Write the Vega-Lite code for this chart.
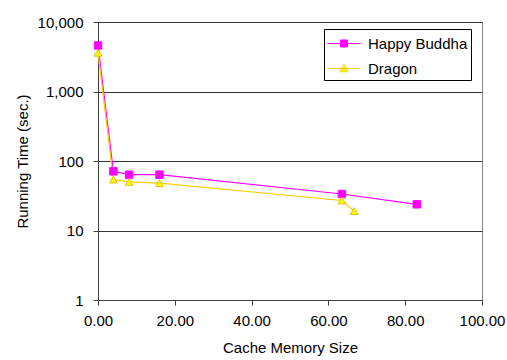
{
  "$schema": "https://vega.github.io/schema/vega-lite/v6.json",
  "width": 384,
  "height": 278,
  "autosize": {"type": "none"},
  "padding": {"left": 98, "top": 22, "right": 25, "bottom": 60},
  "background": "white",
  "config": {
    "font": "Liberation Sans",
    "view": {"stroke": "#888888", "strokeWidth": 1},
    "axis": {
      "labelFont": "Liberation Sans",
      "titleFont": "Liberation Sans",
      "labelFontSize": 15,
      "titleFontSize": 15,
      "titleFontWeight": "normal",
      "labelColor": "black",
      "titleColor": "black",
      "domainColor": "#404040",
      "tickColor": "#404040",
      "gridColor": "#333333",
      "gridOpacity": 1,
      "tickSize": 5,
      "labelFlush": false
    }
  },
  "data": {
    "values": [
      {"series": "Happy Buddha", "x": 0, "y": 4600},
      {"series": "Happy Buddha", "x": 4, "y": 71},
      {"series": "Happy Buddha", "x": 8.1, "y": 63.5},
      {"series": "Happy Buddha", "x": 16, "y": 63.5},
      {"series": "Happy Buddha", "x": 63.5, "y": 33.5},
      {"series": "Happy Buddha", "x": 83, "y": 23.8},
      {"series": "Dragon", "x": 0, "y": 3600},
      {"series": "Dragon", "x": 4, "y": 54},
      {"series": "Dragon", "x": 8.1, "y": 50},
      {"series": "Dragon", "x": 16, "y": 48},
      {"series": "Dragon", "x": 63.5, "y": 27},
      {"series": "Dragon", "x": 66.7, "y": 19}
    ]
  },
  "encoding": {
    "x": {
      "field": "x",
      "type": "quantitative",
      "scale": {"domain": [0, 100], "nice": false},
      "axis": {
        "title": "Cache Memory Size",
        "values": [0, 20, 40, 60, 80, 100],
        "format": ".2f",
        "grid": false,
        "labelPadding": 8,
        "titlePadding": 12
      }
    },
    "y": {
      "field": "y",
      "type": "quantitative",
      "scale": {"type": "log", "domain": [1, 10000], "nice": false},
      "axis": {
        "title": "Running Time (sec.)",
        "values": [1, 10, 100, 1000, 10000],
        "format": ",",
        "grid": true,
        "labelPadding": 10,
        "titlePadding": 7
      }
    }
  },
  "layer": [
    {
      "mark": {"type": "line", "strokeWidth": 1.2},
      "encoding": {
        "color": {
          "field": "series",
          "type": "nominal",
          "sort": ["Happy Buddha", "Dragon"],
          "scale": {"domain": ["Happy Buddha", "Dragon"], "range": ["#FF00FF", "#FFCC00"]},
          "legend": {
            "title": null,
            "orient": "none",
            "legendX": 226,
            "legendY": 7,
            "strokeColor": "black",
            "fillColor": "white",
            "padding": 3,
            "rowPadding": 5,
            "labelFont": "Liberation Sans",
            "labelFontSize": 15,
            "labelColor": "black",
            "labelOffset": 18,
            "symbolSize": 484,
            "symbolStrokeWidth": 1,
            "encode": {
              "symbols": {
                "update": {
                  "shape": {"signal": "datum.value === 'Dragon' ? 'M-1,0H2M0.5,-0.36L0.86,0.3L0.14,0.3Z' : 'M-1,0H2M0.18,-0.32H0.82V0.32H0.18Z'"},
                  "fill": {"signal": "datum.value === 'Dragon' ? '#FFFF00' : '#FF00FF'"},
                  "stroke": {"signal": "datum.value === 'Dragon' ? '#FFCC00' : '#FF00FF'"},
                  "opacity": {"value": 1},
                  "fillOpacity": {"value": 1}
                }
              }
            }
          }
        }
      }
    },
    {
      "transform": [{"filter": "datum.series === 'Happy Buddha'"}],
      "mark": {"type": "point", "shape": "square", "filled": true, "size": 55, "opacity": 1, "fill": "#FF00FF", "stroke": "#FF00FF", "strokeWidth": 1}
    },
    {
      "transform": [{"filter": "datum.series === 'Dragon'"}],
      "mark": {"type": "point", "shape": "triangle-up", "filled": true, "size": 60, "opacity": 1, "fill": "#FFFF00", "stroke": "#E6BE00", "strokeWidth": 1}
    }
  ]
}
